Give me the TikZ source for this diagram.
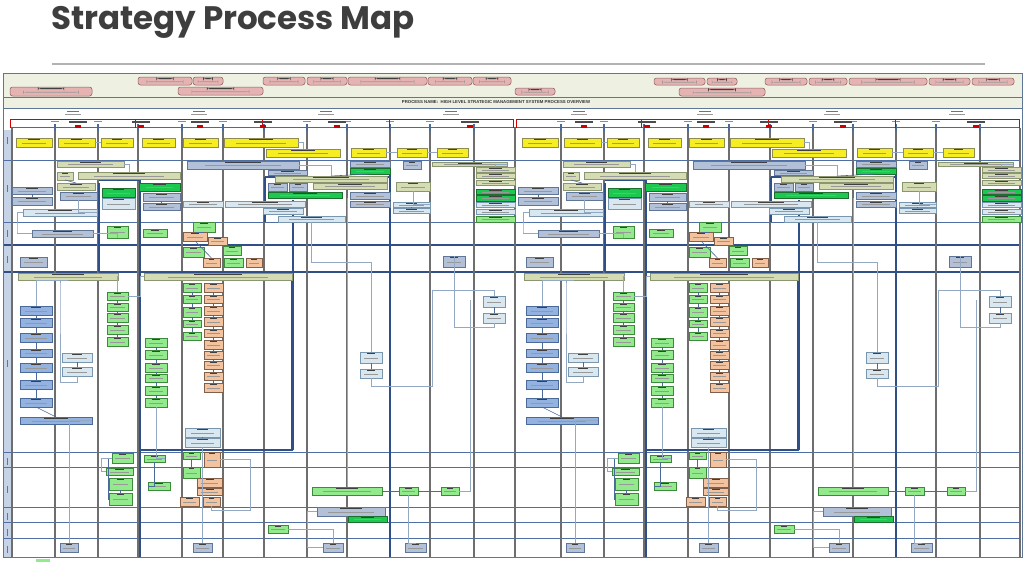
\documentclass[tikz,border=0pt]{standalone}
\usepackage{fontspec}
\setmainfont{Liberation Sans}
\newfontfamily\titlefont{Poppins}
\usetikzlibrary{calc}

\definecolor{cYel}{HTML}{F6EE22}\definecolor{cYelD}{HTML}{8E8C50}
\definecolor{cKha}{HTML}{D5DBB3}\definecolor{cKhaD}{HTML}{8A9670}
\definecolor{cGbl}{HTML}{B3C1D8}\definecolor{cGblD}{HTML}{5F7699}
\definecolor{cLbl}{HTML}{D8E7F0}\definecolor{cLblD}{HTML}{7896AE}
\definecolor{cGrn}{HTML}{93EA8C}\definecolor{cGrnD}{HTML}{3D8A3D}
\definecolor{cBgr}{HTML}{1CC850}\definecolor{cBgrD}{HTML}{1E6E30}
\definecolor{cOra}{HTML}{F3C39F}\definecolor{cOraD}{HTML}{80604A}
\definecolor{cMbl}{HTML}{93B2E0}\definecolor{cMblD}{HTML}{4A6A9A}
\definecolor{cPnk}{HTML}{E6B3B3}\definecolor{cPnkD}{HTML}{8C5E5E}
\definecolor{cHead}{HTML}{EEF0E1}
\definecolor{cLane}{HTML}{C6D3E7}
\definecolor{cGrid}{HTML}{6E6E6E}
\definecolor{cLaneL}{HTML}{4E6EA6}
\definecolor{cThk}{HTML}{2E4F88}
\definecolor{cLnk}{HTML}{93A8C3}
\definecolor{cTitle}{HTML}{3E3E3E}

\tikzset{
  bx/.style={draw, line width=0.5pt, inner sep=0pt, outer sep=0pt, anchor=north west,
    path picture={
      \fill[black!75] ($(path picture bounding box.north west)!.34!(path picture bounding box.north east)+(0pt,-1.2pt)$)
        rectangle ($(path picture bounding box.north west)!.66!(path picture bounding box.north east)+(0pt,-2.0pt)$);
      \fill[black!40] ($(path picture bounding box.west)!.16!(path picture bounding box.east)+(0pt,-0.3pt)$)
        rectangle ($(path picture bounding box.west)!.84!(path picture bounding box.east)+(0pt,-1.0pt)$);
    }},
  yel/.style={bx, fill=cYel, draw=cYelD},
  kha/.style={bx, fill=cKha, draw=cKhaD},
  gbl/.style={bx, fill=cGbl, draw=cGblD},
  lbl/.style={bx, fill=cLbl, draw=cLblD},
  grn/.style={bx, fill=cGrn, draw=cGrnD},
  bgr/.style={bx, fill=cBgr, draw=cBgrD},
  ora/.style={bx, fill=cOra, draw=cOraD},
  mbl/.style={bx, fill=cMbl, draw=cMblD},
  pnk/.style={bx, fill=cPnk, draw=cPnkD, rounded corners=2.5pt},
  con/.style={draw=cMblD, line width=0.6pt},
  lnk/.style={draw=cLnk, line width=0.9pt},
  thk/.style={draw=cThk, line width=1.6pt},
  grid/.style={draw=cGrid, line width=1.1pt},
  lane/.style={draw=cLaneL, line width=0.6pt},
}

% box from its top left corner (x1,y1) to its bottom right corner (x2,y2)
\newcommand\bxn[6]{\node[#2, minimum width={(#5-#3)*1pt}, minimum height={(#6-#4)*1pt}] (#1) at (#3,#4) {};}

% one half of the overview: milestones, swimlane boxes and links; prefix in \P
\newcommand\halfmap{%
  % milestone grid lines
  \foreach \gx in {55,98,138,182,223,264,307,347,390,430,474}{
    \draw[grid] (\gx,128) -- (\gx,557);
    \fill[cMblD] (\gx-1,124) rectangle (\gx+1,131);
    \fill[black!45] (\gx-4,120.5) rectangle (\gx+4,121.5);
  }
  % phase brackets
  \foreach \a/\b in {10/135,135/262,262/389,389/513}{
    \draw[red!85!black, line width=0.8pt] (\a,128) -- (\a,119) -- (\b,119) -- (\b,128);
    \fill[black!55] ({(\a+\b)/2-6},111) rectangle ({(\a+\b)/2+6},112.2);
    \fill[black!40] ({(\a+\b)/2-8},113.5) rectangle ({(\a+\b)/2+8},114.5);
  }
  \foreach \rx in {78,141,200,263,337,470}{
    \fill[red!80!black] (\rx-3,124.5) rectangle (\rx+3,127.5);
    \fill[black!70] (\rx-9,121.3) rectangle (\rx+9,122.6);
  }
  % heavy routing
  \draw[thk] (99,183) -- (99,272);
  \draw[thk] (140,180) -- (140,557);
  \draw[thk] (99,180) -- (140,180);
  \draw[thk] (265,177) -- (390,177);
  \draw[thk] (265,177) -- (265,222);
  \draw[thk] (293,200) -- (293,450);
  \draw[thk] (390,161) -- (390,557);
  \draw[thk] (140,272) rectangle (292,450);
  % lane 1
  \bxn{\P y1}{yel}{16}{138}{52}{147}
  \bxn{\P y2}{yel}{58}{138}{95}{147}
  \bxn{\P y3}{yel}{101}{138}{133}{147}
  \bxn{\P y4}{yel}{142}{138}{175}{147}
  \bxn{\P y5}{yel}{183}{138}{218}{147}
  \bxn{\P y6}{yel}{224}{138}{298}{147}
  \bxn{\P y7}{yel}{266}{149}{340}{157}
  \bxn{\P y8}{yel}{351}{148}{386}{157}
  \bxn{\P y9}{yel}{397}{148}{427}{157}
  \bxn{\P y10}{yel}{437}{148}{468}{157}
  % lane 2
  \bxn{\P k1}{kha}{57}{161}{124}{167}
  \bxn{\P k2}{kha}{57}{172}{73}{180}
  \bxn{\P k3}{kha}{78}{172}{180}{179}
  \bxn{\P k4}{kha}{57}{183}{95}{190}
  \bxn{\P g1}{gbl}{12}{187}{52}{194}
  \bxn{\P g2}{gbl}{12}{197}{52}{205}
  \bxn{\P g3}{gbl}{60}{192}{97}{200}
  \bxn{\P G1}{bgr}{102}{188}{135}{197}
  \bxn{\P l1}{lbl}{102}{198}{135}{209}
  \bxn{\P G2}{bgr}{139}{183}{180}{191}
  \bxn{\P g4}{gbl}{143}{193}{180}{201}
  \bxn{\P g5}{gbl}{143}{203}{180}{210}
  \bxn{\P l2}{lbl}{23}{209}{97}{216}
  \bxn{\P g6}{gbl}{187}{161}{299}{169}
  \bxn{\P l3}{lbl}{183}{201}{223}{207}
  \bxn{\P l4}{lbl}{225}{201}{305}{207}
  \bxn{\P l5}{lbl}{263}{208}{303}{214}
  \bxn{\P l6}{lbl}{278}{216}{345}{222}
  \bxn{\P g7}{gbl}{268}{170}{307}{175}
  \bxn{\P k5}{kha}{275}{176}{387}{182}
  \bxn{\P g8}{gbl}{268}{183}{287}{191}
  \bxn{\P g9}{gbl}{289}{183}{307}{191}
  \bxn{\P k6}{kha}{313}{183}{387}{189}
  \bxn{\P G3}{bgr}{268}{192}{342}{198}
  \bxn{\P g10}{gbl}{350}{161}{390}{167}
  \bxn{\P G4}{bgr}{350}{168}{390}{174}
  \bxn{\P g11}{gbl}{350}{192}{390}{199}
  \bxn{\P g12}{gbl}{350}{201}{390}{207}
  \bxn{\P g13}{gbl}{403}{161}{421}{169}
  \bxn{\P k7}{kha}{396}{182}{430}{191}
  \bxn{\P k8}{kha}{432}{162}{507}{166}
  \bxn{\P k9}{kha}{476}{167}{515}{172}
  \bxn{\P k10}{kha}{476}{173}{515}{178}
  \bxn{\P k11}{kha}{476}{180}{515}{185}
  \bxn{\P G5}{bgr}{476}{189}{515}{194}
  \bxn{\P G6}{bgr}{476}{195}{515}{201}
  \bxn{\P l7}{lbl}{476}{202}{515}{207}
  \bxn{\P l8}{lbl}{476}{209}{515}{214}
  \bxn{\P n1}{grn}{476}{216}{515}{222}
  \bxn{\P l9}{lbl}{393}{202}{430}{207}
  \bxn{\P l10}{lbl}{393}{208}{430}{213}
  % lane 3
  \bxn{\P g14}{gbl}{32}{230}{93}{237}
  \bxn{\P n2}{grn}{107}{226}{128}{238}
  \bxn{\P n3}{grn}{143}{229}{167}{237}
  \bxn{\P n4}{grn}{193}{222}{215}{232}
  \bxn{\P o1}{ora}{183}{232}{207}{241}
  \bxn{\P o2}{ora}{208}{237}{227}{245}
  % lane 4
  \bxn{\P g15}{gbl}{20}{257}{47}{267}
  \bxn{\P n5}{grn}{183}{247}{204}{257}
  \bxn{\P n6}{grn}{223}{246}{241}{255}
  \bxn{\P o3}{ora}{203}{258}{220}{267}
  \bxn{\P n7}{grn}{224}{258}{243}{267}
  \bxn{\P o4}{ora}{246}{258}{262}{267}
  \bxn{\P g16}{gbl}{443}{256}{465}{267}
  % lane 5
  \bxn{\P k12}{kha}{18}{273}{118}{280}
  \bxn{\P k13}{kha}{144}{273}{292}{280}
  \bxn{\P b1}{mbl}{20}{306}{52}{315}
  \bxn{\P b2}{mbl}{20}{318}{52}{327}
  \bxn{\P b3}{mbl}{20}{333}{52}{342}
  \bxn{\P b4}{mbl}{20}{349}{52}{357}
  \bxn{\P b5}{mbl}{20}{363}{52}{372}
  \bxn{\P b6}{mbl}{20}{380}{52}{389}
  \bxn{\P b7}{mbl}{20}{398}{52}{407}
  \bxn{\P b8}{mbl}{20}{417}{92}{424}
  \bxn{\P l11}{lbl}{62}{353}{92}{362}
  \bxn{\P l12}{lbl}{62}{367}{92}{376}
  \bxn{\P a1}{grn}{107}{292}{128}{300}
  \bxn{\P a2}{grn}{107}{303}{128}{311}
  \bxn{\P a3}{grn}{107}{313}{128}{322}
  \bxn{\P a4}{grn}{107}{325}{128}{334}
  \bxn{\P a5}{grn}{107}{337}{128}{346}
  \bxn{\P c1}{grn}{145}{338}{167}{347}
  \bxn{\P c2}{grn}{145}{350}{167}{359}
  \bxn{\P c3}{grn}{145}{363}{167}{372}
  \bxn{\P c4}{grn}{145}{374}{167}{382}
  \bxn{\P c5}{grn}{145}{386}{167}{395}
  \bxn{\P c6}{grn}{145}{398}{167}{407}
  \bxn{\P d1}{grn}{183}{283}{201}{292}
  \bxn{\P d2}{grn}{183}{295}{201}{303}
  \bxn{\P d3}{grn}{183}{307}{201}{317}
  \bxn{\P d4}{grn}{183}{320}{201}{327}
  \bxn{\P d5}{grn}{183}{332}{201}{340}
  \bxn{\P e1}{ora}{204}{283}{223}{292}
  \bxn{\P e2}{ora}{204}{295}{223}{303}
  \bxn{\P e3}{ora}{204}{306}{223}{315}
  \bxn{\P e4}{ora}{204}{317}{223}{326}
  \bxn{\P e5}{ora}{204}{329}{223}{337}
  \bxn{\P e6}{ora}{204}{340}{223}{349}
  \bxn{\P e7}{ora}{204}{351}{223}{359}
  \bxn{\P e8}{ora}{204}{361}{223}{369}
  \bxn{\P e9}{ora}{204}{372}{223}{380}
  \bxn{\P e10}{ora}{204}{383}{223}{392}
  \bxn{\P l13}{lbl}{185}{428}{220}{437}
  \bxn{\P l14}{lbl}{185}{438}{220}{447}
  \bxn{\P l15}{lbl}{483}{296}{505}{307}
  \bxn{\P l16}{lbl}{483}{313}{505}{323}
  \bxn{\P l17}{lbl}{360}{352}{382}{363}
  \bxn{\P l18}{lbl}{360}{369}{382}{378}
  % lane 6
  \bxn{\P n8}{grn}{112}{453}{133}{463}
  \bxn{\P n9}{grn}{144}{455}{165}{462}
  \bxn{\P n10}{grn}{183}{452}{200}{459}
  \bxn{\P o5}{ora}{204}{452}{220}{467}
  % lane 7
  \bxn{\P n11}{grn}{106}{468}{133}{475}
  \bxn{\P n12}{grn}{109}{478}{132}{490}
  \bxn{\P n13}{grn}{109}{493}{132}{505}
  \bxn{\P n14}{grn}{148}{482}{170}{490}
  \bxn{\P n15}{grn}{183}{467}{200}{478}
  \bxn{\P o6}{ora}{197}{478}{222}{487}
  \bxn{\P o7}{ora}{197}{488}{222}{495}
  \bxn{\P o8}{ora}{180}{497}{199}{506}
  \bxn{\P o9}{ora}{203}{497}{220}{506}
  \bxn{\P n16}{grn}{312}{487}{382}{495}
  \bxn{\P n17}{grn}{399}{487}{418}{495}
  \bxn{\P n18}{grn}{441}{487}{459}{495}
  % lanes 8 to 10
  \bxn{\P g17}{gbl}{317}{507}{385}{516}
  \bxn{\P G7}{bgr}{348}{516}{387}{522}
  \bxn{\P n19}{grn}{268}{525}{288}{533}
  \bxn{\P g18}{gbl}{60}{543}{78}{552}
  \bxn{\P g19}{gbl}{193}{543}{212}{552}
  \bxn{\P g20}{gbl}{323}{543}{343}{552}
  \bxn{\P g21}{gbl}{405}{543}{426}{552}
  % step links inside the columns
  \foreach \u/\v in {b1/b2,b2/b3,b3/b4,b4/b5,b5/b6,b6/b7,b7/b8,l11/l12,
      a1/a2,a2/a3,a3/a4,a4/a5,c1/c2,c2/c3,c3/c4,c4/c5,c5/c6,
      d1/d2,d2/d3,d3/d4,d4/d5,e1/e2,e2/e3,e3/e4,e4/e5,e5/e6,e6/e7,e7/e8,e8/e9,e9/e10,
      l13/l14,l15/l16,l17/l18,n12/n13,o6/o7,g1/g2,g4/g5,k2/k4,G4/k5,l9/l10,n10/n15,o1/o3,n4/o1}
    \draw[con] (\P\u.south) -- (\P\v.north);
  \draw[con] (\P n16.east) -- (\P n17.west);
  \draw[con] (\P n17.east) -- (\P n18.west);
  \draw[con] (\P n8.west) -- ++(-4,0) |- (\P n13.west);
  \draw[con] (\P n9.south) |- (\P n14.west);
  % longer routes
  \draw[lnk] (\P y2.east) -- (\P y3.west);
  \draw[lnk] (\P y6.east) -| (\P y7.north);
  \draw[lnk] (\P y8.east) -- (\P y9.west);
  \draw[lnk] (\P y9.east) -- (\P y10.west);
  \draw[lnk] (\P k1.east) -| (\P k3.north);
  \draw[lnk] (\P g3.south) |- (\P l2.east);
  \draw[lnk] (\P l2.west) -| ++(-6,20) |- (\P g14.west);
  \draw[lnk] (\P g14.east) -| (\P n2.south);
  \draw[lnk] (\P g6.east) -| (\P k5.north);
  \draw[lnk] (\P k7.south) |- (\P l9.east);
  \draw[lnk] (\P k8.east) -| (\P k9.north);
  \draw[lnk] (\P l6.south) -- ++(0,40) -| (\P l17.north);
  \draw[lnk] (\P l18.south) -- ++(0,8) -| (432,290) -| (\P l15.north);
  \draw[lnk] (\P l16.south) -- ++(0,4) -| (\P g16.north);
  \draw[lnk] (\P k12.south) -| (\P b1.north);
  \draw[lnk] (\P k12.east) -| (\P a1.north);
  \draw[lnk] (\P a1.east) -- ++(12,0) |- (\P k13.west);
  \draw[lnk] (\P l12.south) -- ++(0,6) -| (60,286) -- (\P k12.south -| 60,0);
  \draw[lnk] (\P b8.east) -| (\P g18.north);
  \draw[lnk] (\P l14.south) -| (\P g19.north);
  \draw[lnk] (\P n11.west) -- ++(-5,0) |- (\P n8.west);
  \draw[lnk] (\P c6.south) |- (\P n9.east);
  \draw[lnk] (\P o9.south) |- (250,510) |- (\P o5.east);
  \draw[lnk] (\P n16.north) -- (\P n16.north |- \P G3.south);
  \draw[lnk] (\P g17.west) -| ++(-10,35) |- (\P g20.west);
  \draw[lnk] (\P n18.east) -| (470,300);
  \draw[lnk] (\P n17.south) |- (\P g21.north);
  \draw[lnk] (\P n19.east) -| (\P g20.north);
}

\begin{document}
\begin{tikzpicture}[x=1pt,y=-1pt]
  \useasboundingbox (0,0) rectangle (1025,562);
  \fill[white] (0,0) rectangle (1025,562);
  % heading
  \node[anchor=west, inner sep=0pt, text=cTitle, font=\titlefont\bfseries\fontsize{32.5}{32.5}\selectfont]
    (title) at (51,22) {Strategy Process Map};
  \draw[black!30, line width=2.4pt] (52,64) -- (985,64);
  % chart frame and header band
  \fill[cHead] (3,73) rectangle (1022,108);
  \draw[cGblD, line width=0.6pt] (3,73) rectangle (1022,97);
  \draw[cGblD, line width=0.6pt] (3,97) rectangle (1022,108);
  \node[font=\bfseries\fontsize{4.3}{4.3}\selectfont, text=black!80, inner sep=0pt]
    (pname) at (496,102.5) {PROCESS NAME:\ \ HIGH LEVEL STRATEGIC MANAGEMENT SYSTEM PROCESS OVERVIEW};
  % stakeholder bubbles
  \bxn{p1}{pnk}{10}{87}{92}{96}
  \bxn{p2}{pnk}{138}{77}{192}{85}
  \bxn{p3}{pnk}{193}{77}{223}{85}
  \bxn{p4}{pnk}{178}{87}{263}{95}
  \bxn{p5}{pnk}{263}{77}{305}{85}
  \bxn{p6}{pnk}{307}{77}{347}{85}
  \bxn{p7}{pnk}{348}{77}{427}{85}
  \bxn{p8}{pnk}{428}{77}{472}{85}
  \bxn{p9}{pnk}{473}{77}{511}{85}
  \bxn{p10}{pnk}{515}{88}{555}{95}
  \bxn{p11}{pnk}{654}{78}{705}{85}
  \bxn{p12}{pnk}{707}{78}{737}{85}
  \bxn{p13}{pnk}{679}{88}{765}{96}
  \bxn{p14}{pnk}{765}{78}{807}{85}
  \bxn{p15}{pnk}{809}{78}{847}{85}
  \bxn{p16}{pnk}{849}{78}{927}{85}
  \bxn{p17}{pnk}{929}{78}{970}{85}
  \bxn{p18}{pnk}{972}{78}{1014}{85}
  % timeline
  \draw[cMblD, line width=1.6pt] (10,127.5) -- (1020,127.5);
  % lane title strip
  \fill[cLane] (3,130) rectangle (12,557);
  \foreach \ly in {137,185,230,256,360,458,486,513,529,546}
    \fill[black!55] (6.8,\ly) rectangle (8.2,\ly+7);
  % swimlane separators
  \foreach \ly in {160,222,452,467,507,522,538}
    \draw[lane] (3,\ly) -- (1021,\ly);
  \draw[cThk, line width=2pt] (3,245) -- (1021,245);
  \draw[cThk, line width=1.4pt] (3,272) -- (1021,272);
  \draw[cGrid, line width=1.1pt] (12,128) -- (12,557);
  \draw[cGrid, line width=1.1pt] (515,128) -- (515,557);
  \draw[cGrid, line width=1.1pt] (1020,128) -- (1020,557);
  % the two halves of the map
  \def\P{L}
  \begin{scope}\halfmap\end{scope}
  \def\P{R}
  \begin{scope}[xshift=506pt]\halfmap\end{scope}
  \draw[cGblD, line width=0.7pt] (3,73) rectangle (1022,557);
  % legend swatch
  \fill[cGrn] (36,558.5) rectangle (50,562);
\end{tikzpicture}
\end{document}
